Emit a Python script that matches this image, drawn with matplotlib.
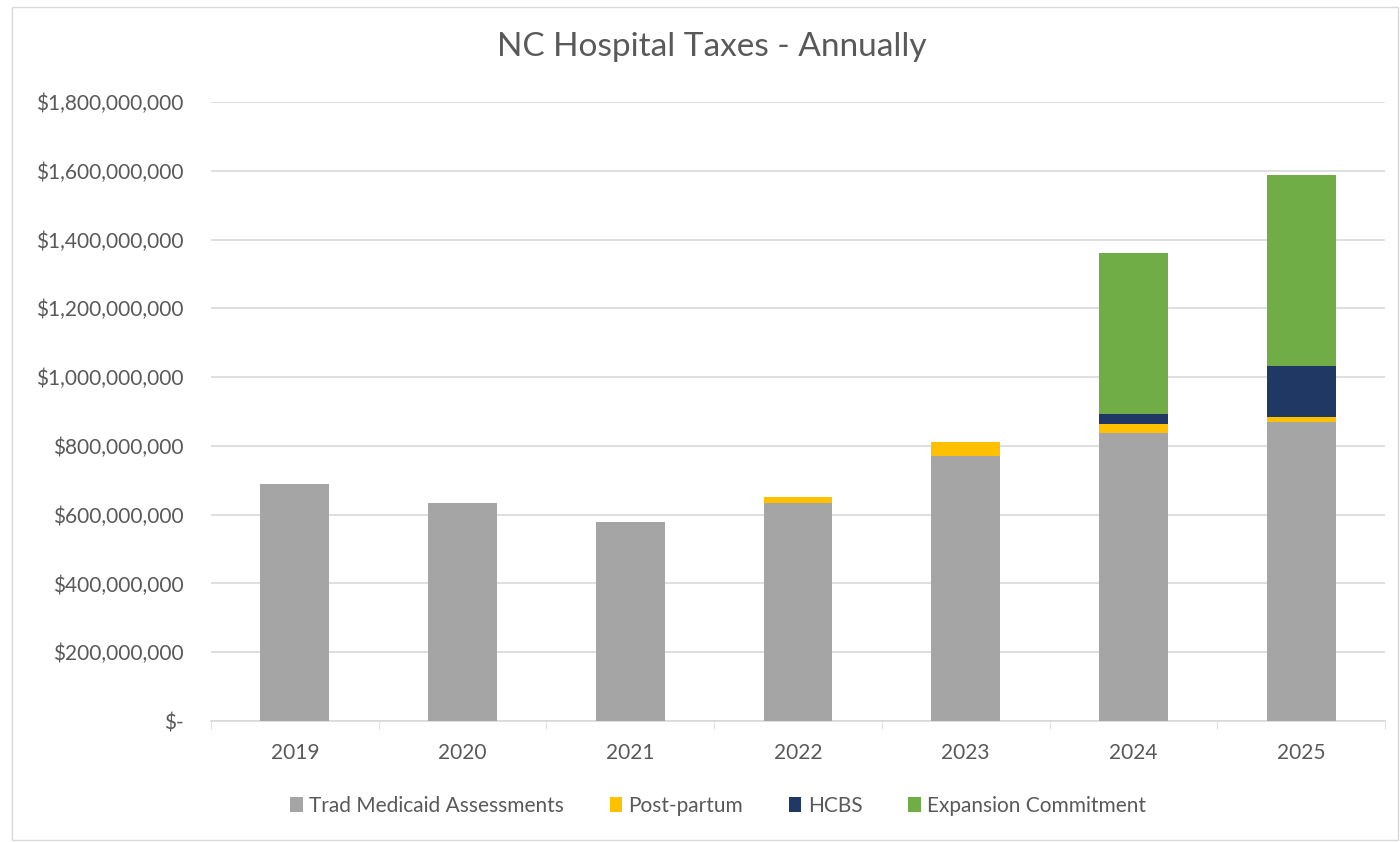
import matplotlib.pyplot as plt
import matplotlib.ticker as mticker
import numpy as np

plt.rcParams['font.family'] = ['Lato', 'DejaVu Sans']

years = ['2019', '2020', '2021', '2022', '2023', '2024', '2025']
trad = [690e6, 634e6, 580e6, 634e6, 771e6, 838e6, 870e6]
postpartum = [0, 0, 0, 16e6, 40e6, 25e6, 15e6]
hcbs = [0, 0, 0, 0, 0, 30e6, 148e6]
expansion = [0, 0, 0, 0, 0, 468e6, 556e6]

series = [
    ('Trad Medicaid Assessments', trad, '#a5a5a5'),
    ('Post-partum', postpartum, '#ffc000'),
    ('HCBS', hcbs, '#203864'),
    ('Expansion Commitment', expansion, '#70ad47'),
]

fig = plt.figure(figsize=(14, 8.42), dpi=100)
ax = fig.add_axes([211 / 1400, 1 - 721 / 842, 1174 / 1400, 619 / 842])

x = np.arange(len(years))
bottom = np.zeros(len(years))
for name, vals, col in series:
    v = np.array(vals)
    ax.bar(x, v, 0.41, bottom=bottom, color=col, label=name, zorder=3)
    bottom += v

ax.set_xlim(-0.5, len(years) - 0.5)
ax.set_ylim(0, 1.8e9)
ax.set_yticks(np.arange(0, 1.8e9 + 1, 2e8))


def money(v, pos):
    if v == 0:
        return '$-'
    return '${:,.0f}'.format(v)


ax.yaxis.set_major_formatter(mticker.FuncFormatter(money))
ax.set_xticks(x)
ax.set_xticklabels(years)
ax.set_xticks(np.arange(-0.5, len(years), 1), minor=True)
ax.tick_params(axis='x', which='major', length=0, pad=16, labelsize=15, labelcolor='#595959')
ax.tick_params(axis='x', which='minor', length=6, color='#d9d9d9')
ax.tick_params(axis='y', length=0, pad=20, labelsize=15, labelcolor='#595959')

ax.grid(axis='y', color='#d9d9d9', linewidth=1.2, zorder=0)
for s in ['top', 'right', 'left']:
    ax.spines[s].set_visible(False)
ax.spines['bottom'].set_color('#d9d9d9')
ax.spines['bottom'].set_linewidth(1.2)

fig.text(712 / 1400, 1 - 47 / 842, 'NC Hospital Taxes - Annually', fontsize=24,
         color='#595959', ha='center', va='center')

fig.legend(loc='center', bbox_to_anchor=(718 / 1400, 1 - 806 / 842), ncol=4,
           frameon=False, fontsize=15, labelcolor='#595959', handlelength=0.6,
           handleheight=0.7, handletextpad=0.3, columnspacing=2.2)

fig.patches.append(plt.Rectangle((12 / 1400, 0.002), 1 - 14 / 1400, 0.99, transform=fig.transFigure,
                                 fill=False, edgecolor='#d9d9d9', linewidth=1))

fig.savefig('out.png', dpi=100)
